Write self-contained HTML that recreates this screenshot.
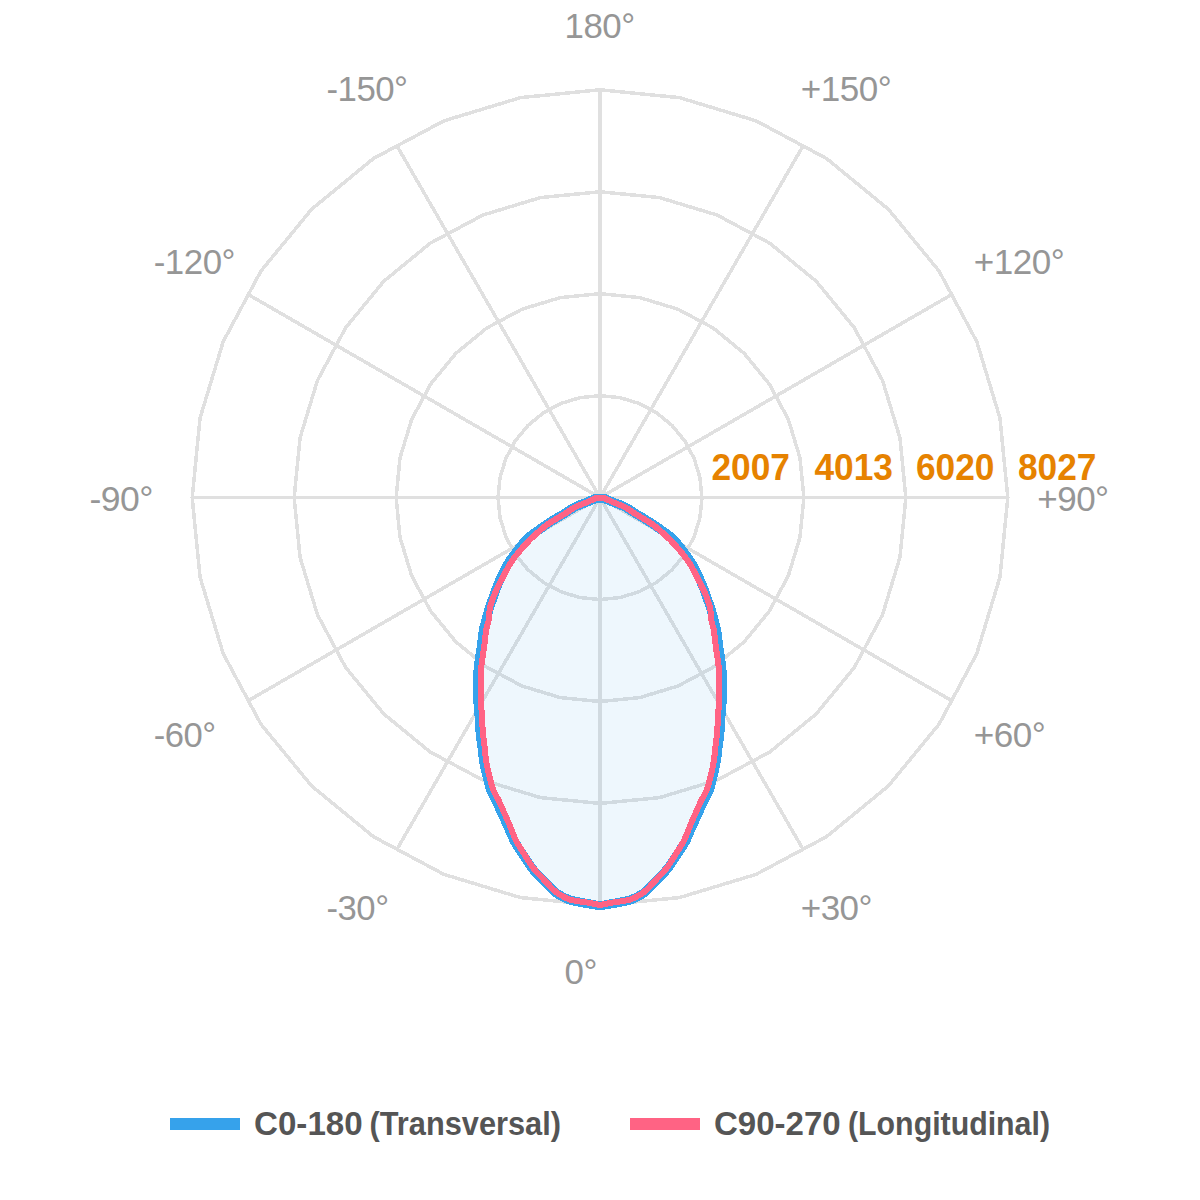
<!DOCTYPE html>
<html><head><meta charset="utf-8"><style>
html,body{margin:0;padding:0;background:#fff;width:1200px;height:1200px;overflow:hidden}
svg{position:absolute;left:0;top:0}
.g polygon,.g line{fill:none;stroke:#e0e0e0;stroke-width:3.5;shape-rendering:crispEdges}
.lab text{font-family:"Liberation Sans",sans-serif;font-size:35px;fill:#969696;letter-spacing:-0.5px}
.sc text{font-family:"Liberation Sans",sans-serif;font-size:36.4px;font-weight:bold;fill:#e68200}
.lg text{font-family:"Liberation Sans",sans-serif;font-size:33.4px;font-weight:bold;fill:#555555}
</style></head><body>
<svg width="1200" height="1200" viewBox="0 0 1200 1200">
<g class="g">
<polygon points="600.00,395.65 619.89,397.61 639.01,403.41 656.64,412.83 672.09,425.51 684.77,440.96 694.19,458.59 699.99,477.71 701.95,497.60 699.99,517.49 694.19,536.61 684.77,554.24 672.09,569.69 656.64,582.37 639.01,591.79 619.89,597.59 600.00,599.55 580.11,597.59 560.99,591.79 543.36,582.37 527.91,569.69 515.23,554.24 505.81,536.61 500.01,517.49 498.05,497.60 500.01,477.71 505.81,458.59 515.23,440.96 527.91,425.51 543.36,412.83 560.99,403.41 580.11,397.61"/>
<polygon points="600.00,293.70 639.78,297.62 678.03,309.22 713.28,328.06 744.18,353.42 769.54,384.32 788.38,419.57 799.98,457.82 803.90,497.60 799.98,537.38 788.38,575.63 769.54,610.88 744.18,641.78 713.28,667.14 678.03,685.98 639.78,697.58 600.00,701.50 560.22,697.58 521.97,685.98 486.72,667.14 455.82,641.78 430.46,610.88 411.62,575.63 400.02,537.38 396.10,497.60 400.02,457.82 411.62,419.57 430.46,384.32 455.82,353.42 486.72,328.06 521.97,309.22 560.22,297.62"/>
<polygon points="600.00,191.75 659.67,197.63 717.04,215.03 769.92,243.30 816.27,281.33 854.30,327.68 882.57,380.56 899.97,437.93 905.85,497.60 899.97,557.27 882.57,614.64 854.30,667.52 816.27,713.87 769.92,751.90 717.04,780.17 659.67,797.57 600.00,803.45 540.33,797.57 482.96,780.17 430.08,751.90 383.73,713.87 345.70,667.52 317.43,614.64 300.03,557.27 294.15,497.60 300.03,437.93 317.43,380.56 345.70,327.68 383.73,281.33 430.08,243.30 482.96,215.03 540.33,197.63"/>
<polygon points="600.00,89.80 679.56,97.64 756.06,120.84 826.56,158.53 888.36,209.24 939.07,271.04 976.76,341.54 999.96,418.04 1007.80,497.60 999.96,577.16 976.76,653.66 939.07,724.16 888.36,785.96 826.56,836.67 756.06,874.36 679.56,897.56 600.00,905.40 520.44,897.56 443.94,874.36 373.44,836.67 311.64,785.96 260.93,724.16 223.24,653.66 200.04,577.16 192.20,497.60 200.04,418.04 223.24,341.54 260.93,271.04 311.64,209.24 373.44,158.53 443.94,120.84 520.44,97.64"/>
<line x1="600.00" y1="497.60" x2="600.00" y2="89.80"/>
<line x1="600.00" y1="497.60" x2="803.03" y2="145.95"/>
<line x1="600.00" y1="497.60" x2="951.65" y2="294.57"/>
<line x1="600.00" y1="497.60" x2="1007.80" y2="497.60"/>
<line x1="600.00" y1="497.60" x2="951.65" y2="700.63"/>
<line x1="600.00" y1="497.60" x2="803.03" y2="849.25"/>
<line x1="600.00" y1="497.60" x2="600.00" y2="905.40"/>
<line x1="600.00" y1="497.60" x2="396.97" y2="849.25"/>
<line x1="600.00" y1="497.60" x2="248.35" y2="700.63"/>
<line x1="600.00" y1="497.60" x2="192.20" y2="497.60"/>
<line x1="600.00" y1="497.60" x2="248.35" y2="294.57"/>
<line x1="600.00" y1="497.60" x2="396.97" y2="145.95"/>
</g>
<path d="M595.50,498.60 C594.16,499.15 590.89,500.51 587.46,501.92 C584.03,503.32 578.69,505.13 574.92,507.04 C571.14,508.94 568.20,511.31 564.84,513.34 C561.49,515.38 558.14,517.17 554.78,519.25 C551.42,521.33 549.15,522.68 544.67,525.84 C540.18,528.99 532.83,533.52 527.86,538.17 C522.89,542.82 518.19,549.43 514.85,553.74 C511.50,558.05 510.03,560.17 507.78,564.01 C505.52,567.85 503.17,572.84 501.31,576.78 C499.46,580.71 497.85,584.60 496.65,587.63 C495.44,590.67 495.29,591.67 494.11,594.96 C492.92,598.26 490.86,603.30 489.53,607.40 C488.20,611.50 487.13,615.88 486.14,619.57 C485.14,623.25 484.20,626.16 483.55,629.51 C482.89,632.86 482.66,636.30 482.22,639.65 C481.78,643.00 481.37,646.28 480.89,649.61 C480.42,652.93 479.82,656.25 479.36,659.62 C478.89,662.99 478.32,666.43 478.11,669.83 C477.89,673.22 478.08,676.64 478.07,680.00 C478.05,683.36 478.04,686.23 478.03,690.00 C478.03,693.77 477.86,698.41 478.03,702.61 C478.19,706.80 478.72,710.58 479.05,715.18 C479.37,719.77 479.65,726.01 479.99,730.20 C480.33,734.38 480.67,736.95 481.09,740.30 C481.51,743.65 482.07,746.94 482.48,750.29 C482.90,753.64 482.86,756.19 483.59,760.39 C484.32,764.60 485.63,770.47 486.86,775.54 C488.10,780.61 489.45,786.58 491.03,790.84 C492.60,795.09 494.70,797.70 496.32,801.06 C497.94,804.42 498.86,806.87 500.74,811.00 C502.62,815.14 505.35,820.90 507.59,825.85 C509.84,830.81 512.26,836.85 514.21,840.73 C516.17,844.60 516.42,844.61 519.33,849.09 C522.24,853.57 528.33,863.09 531.67,867.60 C535.00,872.10 535.54,872.08 539.36,876.10 C543.18,880.11 550.35,888.03 554.59,891.66 C558.84,895.29 561.85,896.36 564.82,897.85 C567.79,899.34 568.25,899.58 572.42,900.60 C576.59,901.62 585.24,903.17 589.84,903.99 C594.43,904.80 596.61,905.50 600.00,905.50 C603.39,905.50 605.57,904.80 610.16,903.99 C614.76,903.17 623.41,901.62 627.58,900.60 C631.75,899.58 632.21,899.34 635.18,897.85 C638.15,896.36 641.16,895.29 645.41,891.66 C649.65,888.03 656.82,880.11 660.64,876.10 C664.46,872.08 665.00,872.10 668.33,867.60 C671.67,863.09 677.76,853.57 680.67,849.09 C683.58,844.61 683.83,844.60 685.79,840.73 C687.74,836.85 690.16,830.81 692.41,825.85 C694.65,820.90 697.38,815.14 699.26,811.00 C701.14,806.87 702.06,804.42 703.68,801.06 C705.30,797.70 707.40,795.09 708.97,790.84 C710.55,786.58 711.90,780.61 713.14,775.54 C714.37,770.47 715.68,764.60 716.41,760.39 C717.14,756.19 717.10,753.64 717.52,750.29 C717.93,746.94 718.49,743.65 718.91,740.30 C719.33,736.95 719.67,734.38 720.01,730.20 C720.35,726.01 720.63,719.77 720.95,715.18 C721.28,710.58 721.81,706.80 721.97,702.61 C722.14,698.41 721.97,693.77 721.97,690.00 C721.96,686.23 721.95,683.36 721.93,680.00 C721.92,676.64 722.11,673.22 721.89,669.83 C721.68,666.43 721.11,662.99 720.64,659.62 C720.18,656.25 719.58,652.93 719.11,649.61 C718.63,646.28 718.22,643.00 717.78,639.65 C717.34,636.30 717.11,632.86 716.45,629.51 C715.80,626.16 714.86,623.25 713.86,619.57 C712.87,615.88 711.80,611.50 710.47,607.40 C709.14,603.30 707.08,598.26 705.89,594.96 C704.71,591.67 704.56,590.67 703.35,587.63 C702.15,584.60 700.54,580.71 698.69,576.78 C696.83,572.84 694.48,567.85 692.22,564.01 C689.97,560.17 688.50,558.05 685.15,553.74 C681.81,549.43 677.11,542.82 672.14,538.17 C667.17,533.52 659.82,528.99 655.33,525.84 C650.85,522.68 648.58,521.33 645.22,519.25 C641.86,517.17 638.51,515.38 635.16,513.34 C631.80,511.31 628.86,508.94 625.08,507.04 C621.31,505.13 615.97,503.32 612.54,501.92 C609.11,500.51 605.84,499.15 604.50,498.60 Z" fill="rgba(54,162,235,0.085)" stroke="none" shape-rendering="crispEdges"/>
<path d="M595.50,498.60 C594.16,499.15 590.89,500.51 587.46,501.92 C584.03,503.32 578.69,505.13 574.92,507.04 C571.14,508.94 568.20,511.31 564.84,513.34 C561.49,515.38 558.14,517.17 554.78,519.25 C551.42,521.33 549.15,522.68 544.67,525.84 C540.18,528.99 532.83,533.52 527.86,538.17 C522.89,542.82 518.19,549.43 514.85,553.74 C511.50,558.05 510.03,560.17 507.78,564.01 C505.52,567.85 503.17,572.84 501.31,576.78 C499.46,580.71 497.85,584.60 496.65,587.63 C495.44,590.67 495.29,591.67 494.11,594.96 C492.92,598.26 490.86,603.30 489.53,607.40 C488.20,611.50 487.13,615.88 486.14,619.57 C485.14,623.25 484.20,626.16 483.55,629.51 C482.89,632.86 482.66,636.30 482.22,639.65 C481.78,643.00 481.37,646.28 480.89,649.61 C480.42,652.93 479.82,656.25 479.36,659.62 C478.89,662.99 478.32,666.43 478.11,669.83 C477.89,673.22 478.08,676.64 478.07,680.00 C478.05,683.36 478.04,686.23 478.03,690.00 C478.03,693.77 477.86,698.41 478.03,702.61 C478.19,706.80 478.72,710.58 479.05,715.18 C479.37,719.77 479.65,726.01 479.99,730.20 C480.33,734.38 480.67,736.95 481.09,740.30 C481.51,743.65 482.07,746.94 482.48,750.29 C482.90,753.64 482.86,756.19 483.59,760.39 C484.32,764.60 485.63,770.47 486.86,775.54 C488.10,780.61 489.45,786.58 491.03,790.84 C492.60,795.09 494.70,797.70 496.32,801.06 C497.94,804.42 498.86,806.87 500.74,811.00 C502.62,815.14 505.35,820.90 507.59,825.85 C509.84,830.81 512.26,836.85 514.21,840.73 C516.17,844.60 516.42,844.61 519.33,849.09 C522.24,853.57 528.33,863.09 531.67,867.60 C535.00,872.10 535.54,872.08 539.36,876.10 C543.18,880.11 550.35,888.03 554.59,891.66 C558.84,895.29 561.85,896.36 564.82,897.85 C567.79,899.34 568.25,899.58 572.42,900.60 C576.59,901.62 585.24,903.17 589.84,903.99 C594.43,904.80 596.61,905.50 600.00,905.50 C603.39,905.50 605.57,904.80 610.16,903.99 C614.76,903.17 623.41,901.62 627.58,900.60 C631.75,899.58 632.21,899.34 635.18,897.85 C638.15,896.36 641.16,895.29 645.41,891.66 C649.65,888.03 656.82,880.11 660.64,876.10 C664.46,872.08 665.00,872.10 668.33,867.60 C671.67,863.09 677.76,853.57 680.67,849.09 C683.58,844.61 683.83,844.60 685.79,840.73 C687.74,836.85 690.16,830.81 692.41,825.85 C694.65,820.90 697.38,815.14 699.26,811.00 C701.14,806.87 702.06,804.42 703.68,801.06 C705.30,797.70 707.40,795.09 708.97,790.84 C710.55,786.58 711.90,780.61 713.14,775.54 C714.37,770.47 715.68,764.60 716.41,760.39 C717.14,756.19 717.10,753.64 717.52,750.29 C717.93,746.94 718.49,743.65 718.91,740.30 C719.33,736.95 719.67,734.38 720.01,730.20 C720.35,726.01 720.63,719.77 720.95,715.18 C721.28,710.58 721.81,706.80 721.97,702.61 C722.14,698.41 721.97,693.77 721.97,690.00 C721.96,686.23 721.95,683.36 721.93,680.00 C721.92,676.64 722.11,673.22 721.89,669.83 C721.68,666.43 721.11,662.99 720.64,659.62 C720.18,656.25 719.58,652.93 719.11,649.61 C718.63,646.28 718.22,643.00 717.78,639.65 C717.34,636.30 717.11,632.86 716.45,629.51 C715.80,626.16 714.86,623.25 713.86,619.57 C712.87,615.88 711.80,611.50 710.47,607.40 C709.14,603.30 707.08,598.26 705.89,594.96 C704.71,591.67 704.56,590.67 703.35,587.63 C702.15,584.60 700.54,580.71 698.69,576.78 C696.83,572.84 694.48,567.85 692.22,564.01 C689.97,560.17 688.50,558.05 685.15,553.74 C681.81,549.43 677.11,542.82 672.14,538.17 C667.17,533.52 659.82,528.99 655.33,525.84 C650.85,522.68 648.58,521.33 645.22,519.25 C641.86,517.17 638.51,515.38 635.16,513.34 C631.80,511.31 628.86,508.94 625.08,507.04 C621.31,505.13 615.97,503.32 612.54,501.92 C609.11,500.51 605.84,499.15 604.50,498.60 Z" fill="none" stroke="#36a2eb" stroke-width="9.20" stroke-linejoin="miter" shape-rendering="crispEdges"/>
<path d="M596.00,498.00 C594.58,498.67 591.00,500.47 587.50,502.00 C584.00,503.53 578.75,505.27 575.00,507.20 C571.25,509.13 568.33,511.53 565.00,513.60 C561.67,515.67 558.33,517.49 555.00,519.60 C551.67,521.71 549.22,522.85 545.00,526.25 C540.78,529.65 534.47,535.21 529.70,540.00 C524.93,544.79 519.78,550.83 516.40,555.00 C513.02,559.17 511.68,561.25 509.40,565.00 C507.12,568.75 504.70,573.67 502.70,577.50 C500.70,581.33 498.82,585.08 497.40,588.00 C495.98,590.92 495.43,591.75 494.20,595.00 C492.97,598.25 490.92,603.33 490.00,607.50 C489.08,611.67 489.33,616.25 488.70,620.00 C488.07,623.75 486.82,626.67 486.20,630.00 C485.58,633.33 485.42,636.67 485.00,640.00 C484.58,643.33 484.17,646.67 483.70,650.00 C483.23,653.33 482.65,656.67 482.20,660.00 C481.75,663.33 481.20,666.67 481.00,670.00 C480.80,673.33 481.00,676.67 481.00,680.00 C481.00,683.33 481.00,686.25 481.00,690.00 C481.00,693.75 480.85,698.33 481.00,702.50 C481.15,706.67 481.62,710.42 481.90,715.00 C482.18,719.58 482.40,725.83 482.70,730.00 C483.00,734.17 483.32,736.67 483.70,740.00 C484.08,743.33 484.62,746.67 485.00,750.00 C485.38,753.33 485.32,755.83 486.00,760.00 C486.68,764.17 487.89,770.00 489.10,775.00 C490.31,780.00 491.68,785.83 493.25,790.00 C494.82,794.17 496.88,796.67 498.50,800.00 C500.12,803.33 501.15,805.83 503.00,810.00 C504.85,814.17 507.48,820.00 509.60,825.00 C511.73,830.00 513.92,836.12 515.75,840.00 C517.58,843.88 517.81,843.80 520.60,848.30 C523.39,852.80 529.27,862.47 532.50,867.00 C535.73,871.53 536.25,871.47 540.00,875.50 C543.75,879.53 550.83,887.53 555.00,891.20 C559.17,894.87 562.08,895.99 565.00,897.50 C567.92,899.01 568.33,899.33 572.50,900.25 C576.67,901.17 585.42,902.25 590.00,903.00 C594.58,903.75 596.67,904.75 600.00,904.75 C603.33,904.75 605.42,903.75 610.00,903.00 C614.58,902.25 623.33,901.17 627.50,900.25 C631.67,899.33 632.08,899.01 635.00,897.50 C637.92,895.99 640.83,894.87 645.00,891.20 C649.17,887.53 656.25,879.53 660.00,875.50 C663.75,871.47 664.27,871.53 667.50,867.00 C670.73,862.47 676.61,852.80 679.40,848.30 C682.19,843.80 682.42,843.88 684.25,840.00 C686.08,836.12 688.27,830.00 690.40,825.00 C692.52,820.00 695.15,814.17 697.00,810.00 C698.85,805.83 699.88,803.33 701.50,800.00 C703.12,796.67 705.18,794.17 706.75,790.00 C708.32,785.83 709.69,780.00 710.90,775.00 C712.11,770.00 713.32,764.17 714.00,760.00 C714.68,755.83 714.62,753.33 715.00,750.00 C715.38,746.67 715.92,743.33 716.30,740.00 C716.68,736.67 717.00,734.17 717.30,730.00 C717.60,725.83 717.82,719.58 718.10,715.00 C718.38,710.42 718.85,706.67 719.00,702.50 C719.15,698.33 719.00,693.75 719.00,690.00 C719.00,686.25 719.00,683.33 719.00,680.00 C719.00,676.67 719.20,673.33 719.00,670.00 C718.80,666.67 718.25,663.33 717.80,660.00 C717.35,656.67 716.77,653.33 716.30,650.00 C715.83,646.67 715.42,643.33 715.00,640.00 C714.58,636.67 714.42,633.33 713.80,630.00 C713.18,626.67 711.93,623.75 711.30,620.00 C710.67,616.25 710.92,611.67 710.00,607.50 C709.08,603.33 707.03,598.25 705.80,595.00 C704.57,591.75 704.02,590.92 702.60,588.00 C701.18,585.08 699.30,581.33 697.30,577.50 C695.30,573.67 692.88,568.75 690.60,565.00 C688.32,561.25 686.98,559.17 683.60,555.00 C680.22,550.83 675.07,544.79 670.30,540.00 C665.53,535.21 659.22,529.65 655.00,526.25 C650.78,522.85 648.33,521.71 645.00,519.60 C641.67,517.49 638.33,515.67 635.00,513.60 C631.67,511.53 628.75,509.13 625.00,507.20 C621.25,505.27 616.00,503.53 612.50,502.00 C609.00,500.47 605.42,498.67 604.00,498.00 Z" fill="none" stroke="#ff6384" stroke-width="6.00" stroke-linejoin="miter" shape-rendering="crispEdges"/>
<g class="lab">
<text x="564.50" y="38.00" textLength="70.16" lengthAdjust="spacingAndGlyphs">180°</text>
<text x="326.50" y="100.75" textLength="81.05" lengthAdjust="spacingAndGlyphs">-150°</text>
<text x="800.75" y="100.75" textLength="90.47" lengthAdjust="spacingAndGlyphs">+150°</text>
<text x="153.75" y="274.00" textLength="81.28" lengthAdjust="spacingAndGlyphs">-120°</text>
<text x="973.75" y="274.00" textLength="90.47" lengthAdjust="spacingAndGlyphs">+120°</text>
<text x="89.50" y="510.80" textLength="63.56" lengthAdjust="spacingAndGlyphs">-90°</text>
<text x="1037.25" y="511.10" textLength="71.35" lengthAdjust="spacingAndGlyphs">+90°</text>
<text x="153.75" y="747.00" textLength="61.90" lengthAdjust="spacingAndGlyphs">-60°</text>
<text x="973.75" y="747.00" textLength="71.50" lengthAdjust="spacingAndGlyphs">+60°</text>
<text x="326.50" y="920.00" textLength="62.07" lengthAdjust="spacingAndGlyphs">-30°</text>
<text x="800.75" y="920.00" textLength="71.30" lengthAdjust="spacingAndGlyphs">+30°</text>
<text x="564.50" y="983.75" textLength="32.39" lengthAdjust="spacingAndGlyphs">0°</text>
</g>
<g class="sc">
<text x="711.5" y="480" textLength="78.5" lengthAdjust="spacingAndGlyphs">2007</text>
<text x="814.5" y="480" textLength="78.5" lengthAdjust="spacingAndGlyphs">4013</text>
<text x="916.0" y="480" textLength="78.5" lengthAdjust="spacingAndGlyphs">6020</text>
<text x="1018.0" y="480" textLength="78.5" lengthAdjust="spacingAndGlyphs">8027</text>
</g>
<rect x="170" y="1118" width="70" height="12" fill="#36a2eb"/>
<rect x="630" y="1118" width="70" height="12" fill="#ff6384"/>
<g class="lg">
<text x="254" y="1134.8" textLength="108.7" lengthAdjust="spacingAndGlyphs">C0-180</text>
<text x="369.5" y="1134.8" textLength="191.5" lengthAdjust="spacingAndGlyphs">(Transversal)</text>
<text x="714" y="1134.8" textLength="126.7" lengthAdjust="spacingAndGlyphs">C90-270</text>
<text x="848" y="1134.8" textLength="202" lengthAdjust="spacingAndGlyphs">(Longitudinal)</text>
</g>
</svg>
</body></html>
